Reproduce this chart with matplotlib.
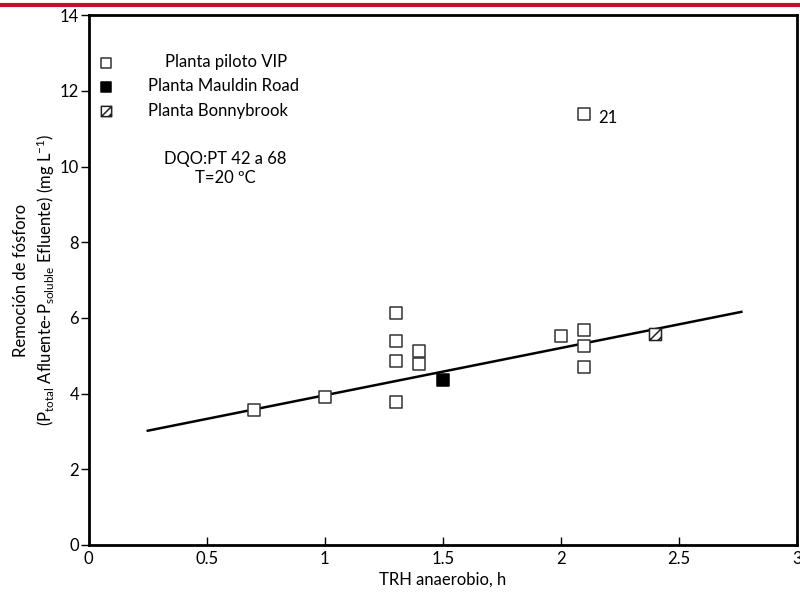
import matplotlib
matplotlib.use("Agg")
import matplotlib.pyplot as plt
from matplotlib.lines import Line2D
from matplotlib.path import Path

plt.rcParams['font.family'] = ['Lato', 'DejaVu Sans']
plt.rcParams['mathtext.fontset'] = 'custom'
plt.rcParams['mathtext.rm'] = 'Lato'
plt.rcParams['mathtext.it'] = 'Lato:italic'

# Planta piloto VIP
vip_x = [0.7, 1.0, 1.3, 1.3, 1.3, 1.3, 1.4, 1.4, 2.0, 2.1, 2.1, 2.1, 2.1]
vip_y = [3.57, 3.92, 6.14, 5.40, 4.87, 3.78, 5.13, 4.79, 5.53, 5.69, 5.26, 4.71, 11.40]
# Planta Mauldin Road
mauldin_x = [1.5]
mauldin_y = [4.37]
# Planta Bonnybrook
bonny_x = [2.4]
bonny_y = [5.58]
# linea de ajuste
fit_x = [0.25, 2.765]
fit_y = [3.02, 6.16]

# cuadrado con diagonal (rayado)
hatched_sq = Path(
    [(-1, -1), (1, -1), (1, 1), (-1, 1), (-1, -1),
     (-1, -1), (1, 1), (0.4, -1), (1, -0.4)],
    [Path.MOVETO, Path.LINETO, Path.LINETO, Path.LINETO, Path.CLOSEPOLY,
     Path.MOVETO, Path.LINETO, Path.MOVETO, Path.LINETO])

fig = plt.figure(figsize=(8, 6), dpi=100)
ax = fig.add_axes([0.111, 0.0917, 0.885, 0.883])

ax.plot(fit_x, fit_y, color='black', lw=1.8, zorder=2)
h_vip = ax.scatter(vip_x, vip_y, marker='s', s=75, facecolor='white',
                   edgecolor='#333333', linewidths=1.1, zorder=3)
h_mau = ax.scatter(mauldin_x, mauldin_y, marker='s', s=75, facecolor='black',
                   edgecolor='black', linewidths=1.1, zorder=3)
h_bon = ax.scatter(bonny_x, bonny_y, marker=hatched_sq, s=75, facecolor='white',
                   edgecolor='#222222', linewidths=1.1, zorder=3)

ax.text(vip_x[-1] + 0.06, vip_y[-1] - 0.12, '21', fontsize=12, va='center', ha='left')
ax.text(0.58, 10.2, 'DQO:PT 42 a 68', fontsize=12, ha='center', va='center')
ax.text(0.58, 9.7, 'T=20 ºC', fontsize=12, ha='center', va='center')

labels = ['    Planta piloto VIP', 'Planta Mauldin Road', 'Planta Bonnybrook']
leg = ax.legend([h_vip, h_mau, h_bon], labels, loc='upper left',
                bbox_to_anchor=(-0.008, 0.955), scatterpoints=1,
                frameon=False, fontsize=12, handletextpad=2.0, labelspacing=0.5,
                borderaxespad=0.5, handlelength=1.0)
for lh in leg.legend_handles:
    lh.set_sizes([55])

ax.set_xlim(0, 3)
ax.set_ylim(0, 14)
ax.set_xticks([0, 0.5, 1, 1.5, 2, 2.5, 3])
ax.set_xticklabels(['0', '0.5', '1', '1.5', '2', '2.5', '3'])
ax.set_yticks(range(0, 15, 2))
ax.tick_params(axis='x', direction='in', length=6, width=1, labelsize=12, pad=4)
ax.tick_params(axis='y', direction='out', length=6, width=1, labelsize=12, pad=1)
for sp in ax.spines.values():
    sp.set_linewidth(2.0)

ax.set_xlabel('TRH anaerobio, h', fontsize=12, labelpad=4)
ax.set_ylabel('Remoción de fósforo\n'
              r'(P$_{\mathrm{total}}$ Afluente-P$_{\mathrm{soluble}}$ Efluente) (mg L$^{-1}$)',
              fontsize=12, labelpad=2, linespacing=1.3)

fig.add_artist(Line2D([0, 1], [0.992, 0.992], color='#c8102e', lw=3,
                      transform=fig.transFigure))

fig.savefig('out.png', dpi=100)
